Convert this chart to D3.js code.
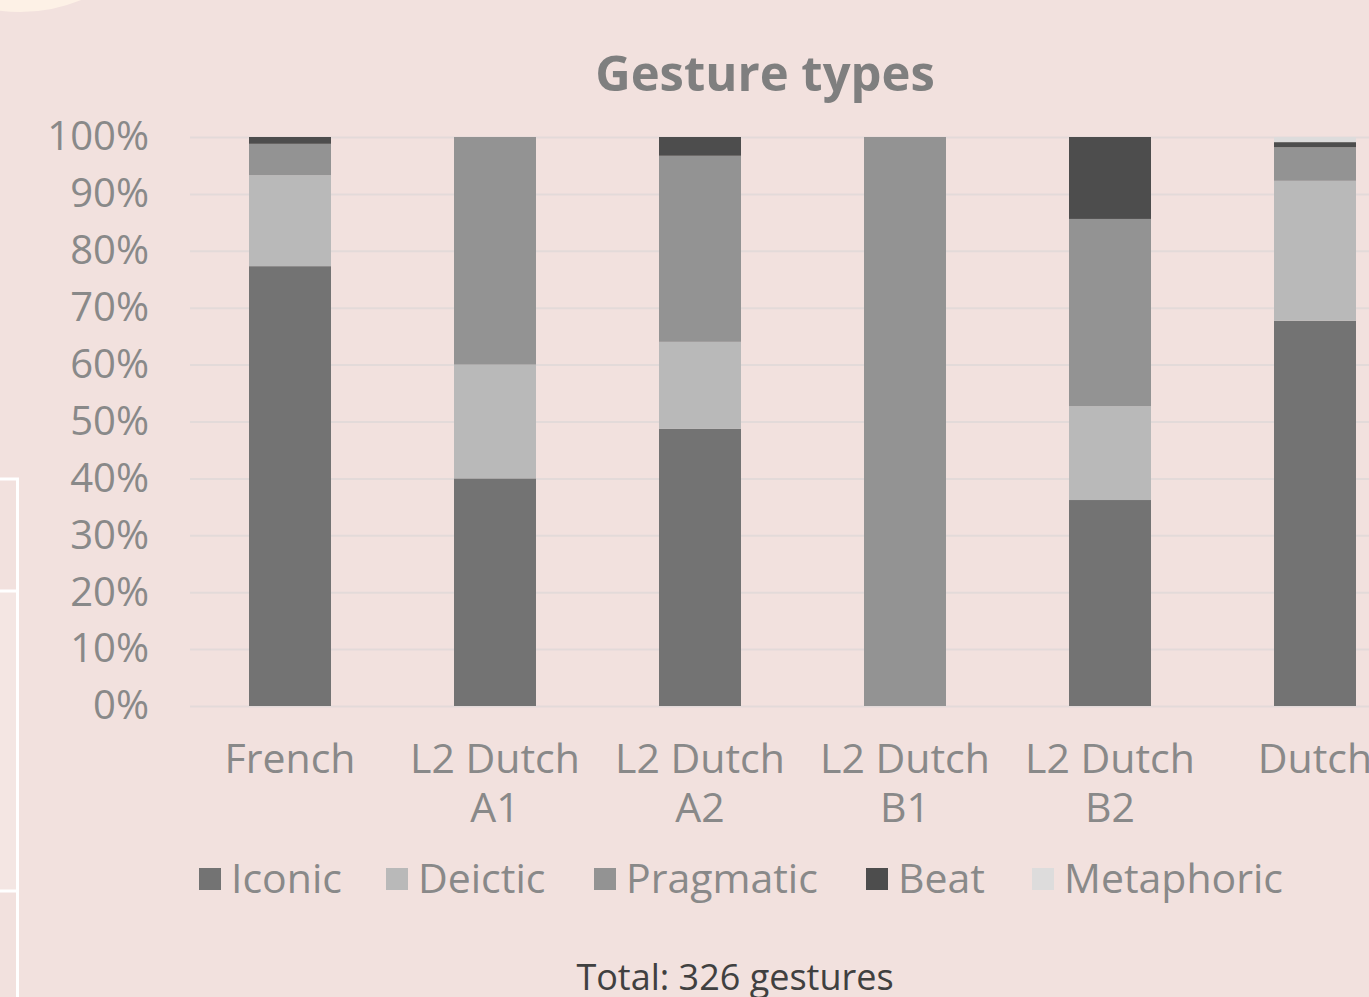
<!DOCTYPE html>
<html>
<head>
<meta charset="utf-8">
<script src="https://cdn.jsdelivr.net/npm/d3@7"></script>
<style>
  html, body { margin: 0; padding: 0; background: #f2e1de; overflow: hidden; }
  svg { display: block; font-family: "Open Sans", "Noto Sans", sans-serif; }
</style>
</head>
<body>
<div id="chart"></div>
<script>
// data (shares of each gesture type, %)
var categories = ["French", "L2 Dutch\nA1", "L2 Dutch\nA2", "L2 Dutch\nB1", "L2 Dutch\nB2", "Dutch"];
var seriesNames = ["Iconic", "Deictic", "Pragmatic", "Beat", "Metaphoric"];
var iconic     = [77.3, 40, 48.7, 0, 36.2, 67.7];
var deictic    = [16.0, 20, 15.3, 0, 16.5, 24.6];
var pragmatic  = [5.5, 40, 32.7, 100, 32.9, 5.9];
var beat       = [1.2, 0, 3.3, 0, 14.4, 0.9];
var metaphoric = [0, 0, 0, 0, 0, 0.9];
var yTicks = [0, 10, 20, 30, 40, 50, 60, 70, 80, 90, 100];

var colors = ["#737373", "#b9b9b9", "#939393", "#4d4d4d", "#dddcdc"];

var width = 1369, height = 997;
var svg = d3.select("#chart").append("svg").attr("width", width).attr("height", height);

// slide decorations
svg.append("circle").attr("cx", 20).attr("cy", -150).attr("r", 162).attr("fill", "#fdf1e6");
svg.append("rect").attr("x", 0).attr("y", 592).attr("width", 16).attr("height", 298).attr("fill", "#f4e6e3");
svg.append("path")
    .attr("d", "M0,479H17.5V997M0,591H17.5M0,891H17.5")
    .attr("fill", "none").attr("stroke", "#ffffff").attr("stroke-width", 3);

var rows = categories.map(function(c, i) {
  return { cat: c, Iconic: iconic[i], Deictic: deictic[i], Pragmatic: pragmatic[i], Beat: beat[i], Metaphoric: metaphoric[i] };
});
var stacked = d3.stack().keys(seriesNames)(rows);

var x = d3.scaleBand().domain(categories).range([187.5, 187.5 + 205 * 6]).paddingInner(0.6).paddingOuter(0.3);
var y = d3.scaleLinear().domain([0, 100]).range([706, 137]);

// grid
svg.append("g").selectAll("line").data(yTicks).enter().append("line")
    .attr("x1", 190).attr("x2", width)
    .attr("y1", function(d) { return y(d) + 0.5; }).attr("y2", function(d) { return y(d) + 0.5; })
    .attr("stroke", "#e3dad9").attr("stroke-width", 2);

// bars
svg.append("g").selectAll("g").data(stacked).enter().append("g")
    .attr("fill", function(d, i) { return colors[i]; })
  .selectAll("rect").data(function(d) { return d; }).enter().append("rect")
    .filter(function(d) { return d[1] - d[0] > 0; })
    .attr("x", function(d) { return x(d.data.cat); })
    .attr("y", function(d) { return y(d[1]); })
    .attr("width", x.bandwidth())
    .attr("height", function(d) { return y(d[0]) - y(d[1]); });

// y axis
var yAxis = svg.append("g")
    .attr("transform", "translate(149,0)")
    .call(d3.axisLeft(y).tickValues(yTicks).tickSize(0).tickFormat(function(d) { return d + "%"; }));
yAxis.select(".domain").remove();
yAxis.selectAll("text").attr("font-size", 40).attr("fill", "#898989").attr("font-family", "Open Sans, sans-serif").attr("x", 0);

// x axis, one text per label line
var xAxis = svg.append("g")
    .attr("transform", "translate(0,706)")
    .call(d3.axisBottom(x).tickSize(0));
xAxis.select(".domain").remove();
xAxis.selectAll(".tick").each(function(d) {
  var tick = d3.select(this);
  tick.select("text").remove();
  d.split("\n").forEach(function(line, i) {
    tick.append("text").attr("y", 67 + i * 49).attr("text-anchor", "middle")
        .attr("font-size", 41).attr("fill", "#898989").attr("font-family", "Open Sans, sans-serif")
        .text(line);
  });
});

// title
svg.append("text").attr("x", 765).attr("y", 91).attr("text-anchor", "middle")
    .attr("font-size", 49).attr("font-weight", "bold").attr("fill", "#7f7f7f").text("Gesture types");

// legend
var legendX = [199, 386, 594, 866, 1032];
var legend = svg.append("g").selectAll("g").data(seriesNames).enter().append("g")
    .attr("transform", function(d, i) { return "translate(" + legendX[i] + ",868)"; });
legend.append("rect").attr("width", 22).attr("height", 22).attr("fill", function(d, i) { return colors[i]; });
legend.append("text").attr("x", 32).attr("y", 25).attr("font-size", 41).attr("fill", "#898989").text(function(d) { return d; });

// footnote
svg.append("text").attr("x", 735).attr("y", 990).attr("text-anchor", "middle")
    .attr("font-size", 36).attr("fill", "#404040").text("Total: 326 gestures");
</script>
</body>
</html>
